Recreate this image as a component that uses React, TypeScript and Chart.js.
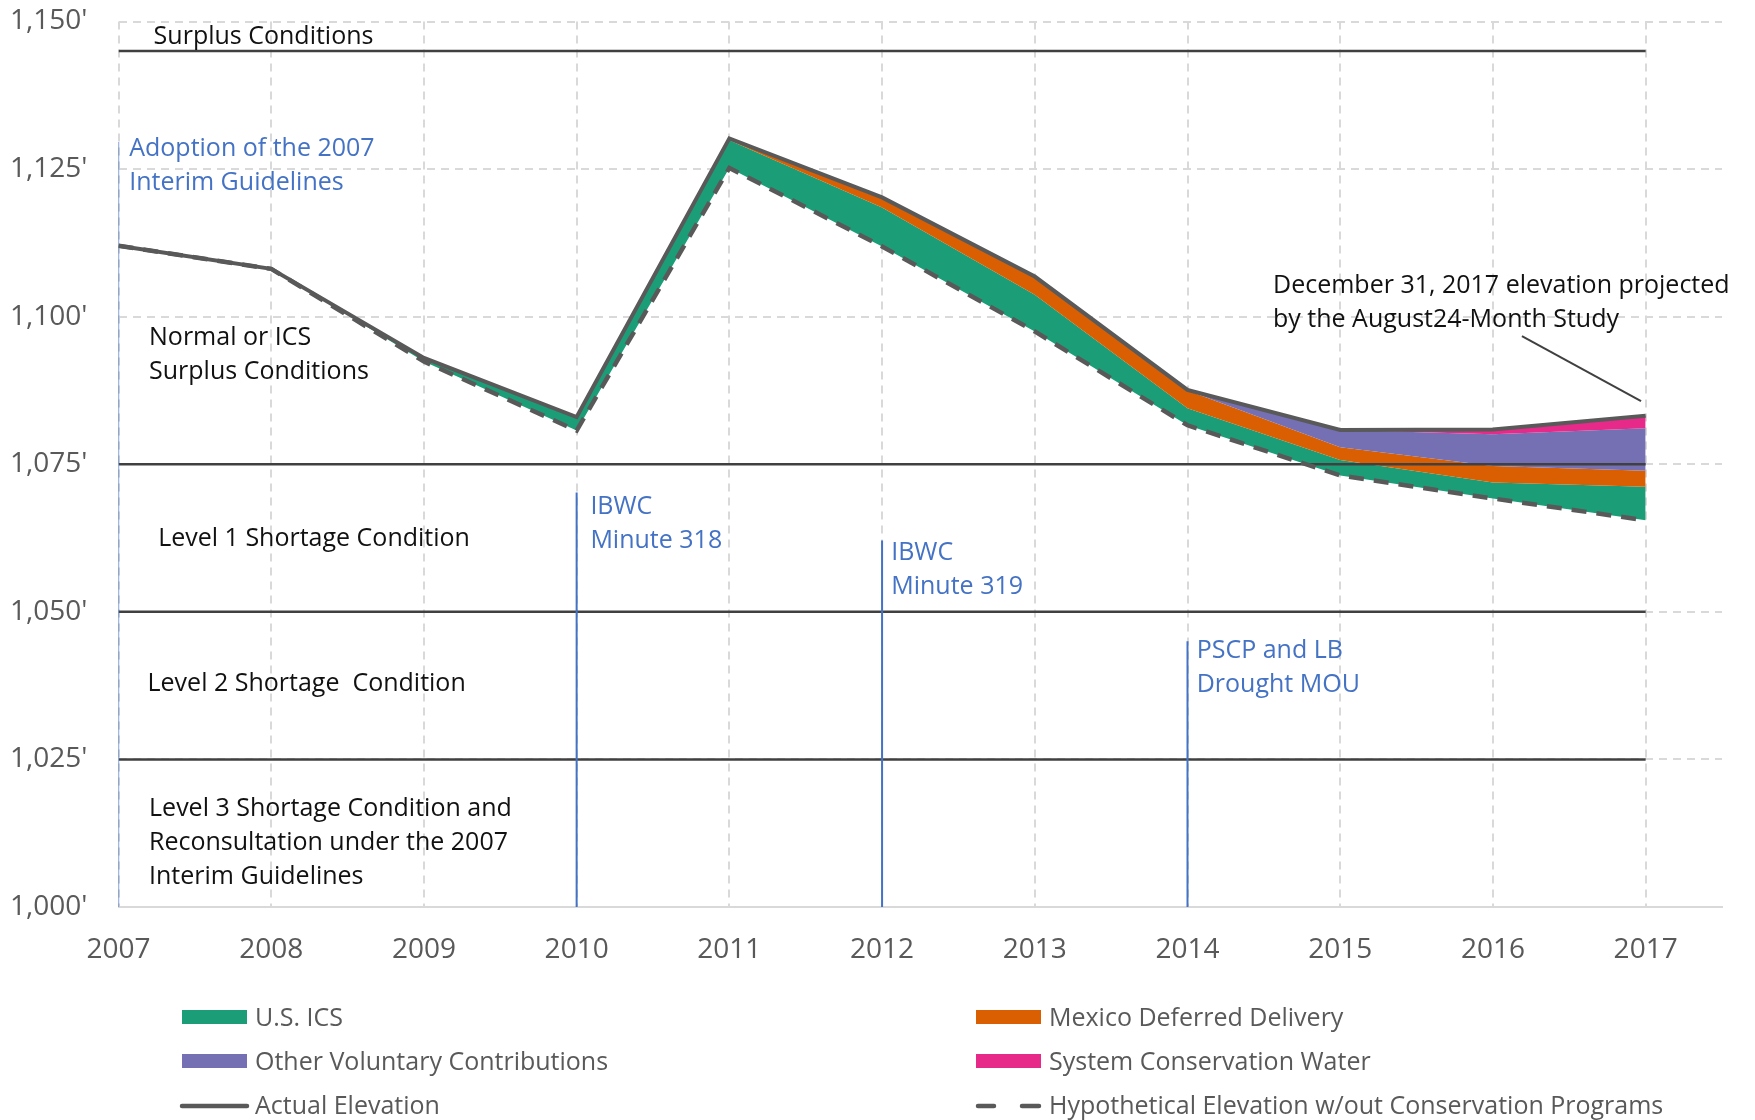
import React, { useEffect, useRef } from "react";
import { Chart, registerables } from "chart.js";

Chart.register(...registerables);

// ---------- data ----------
const years = [2007, 2008, 2009, 2010, 2011, 2012, 2013, 2014, 2015, 2016, 2017];
const hypotheticalElevation = [1112.0, 1108.1, 1092.4, 1080.7, 1125.2, 1111.9, 1097.5, 1081.6, 1073.1, 1069.2, 1065.5];
const usIcs = [0, 0, 0.6, 2.3, 4.7, 6.6, 6.2, 2.9, 2.6, 2.7, 5.7];
const mexicoDeferredDelivery = [0, 0, 0, 0, 0.3, 1.7, 3.1, 3.0, 2.2, 2.8, 2.7];
const otherVoluntaryContributions = [0, 0, 0, 0, 0, 0, 0, 0.1, 2.9, 5.4, 7.2];
const systemConservationWater = [0, 0, 0, 0, 0, 0, 0, 0, 0, 0.8, 2.1];
const actualElevation = [1112.0, 1108.1, 1093.0, 1083.0, 1130.2, 1120.2, 1106.8, 1087.6, 1080.8, 1080.9, 1083.2];

const conditionLevels = [1145, 1075, 1050, 1025];
const milestoneYears = [2007, 2010, 2012, 2014];
const milestoneTops = [1129.6, 1070.2, 1062.1, 1045.0];
const yTickValues = [1000, 1025, 1050, 1075, 1100, 1125, 1150];

const pointerYears = [2016.19, 2016.97];
const pointerElevations = [1096.7, 1085.7];

const seriesLabels = [
  "U.S. ICS",
  "Mexico Deferred Delivery",
  "Other Voluntary Contributions",
  "System Conservation Water",
];
const lineLabels = ["Actual Elevation", "Hypothetical Elevation w/out Conservation Programs"];

const blackText = [
  { lines: ["Surplus Conditions"], year: 2007.23, elev: 1147.7 },
  { lines: ["Normal or ICS", "Surplus Conditions"], year: 2007.2, elev: 1096.7 },
  { lines: ["Level 1 Shortage Condition"], year: 2007.26, elev: 1062.7 },
  { lines: ["Level 2 Shortage  Condition"], year: 2007.19, elev: 1038.1 },
  { lines: ["Level 3 Shortage Condition and", "Reconsultation under the 2007", "Interim Guidelines"], year: 2007.2, elev: 1016.9 },
  { lines: ["December 31, 2017 elevation projected", "by the August24-Month Study"], year: 2014.56, elev: 1105.5 },
];
const blueText = [
  { lines: ["Adoption of the 2007", "Interim Guidelines"], year: 2007.07, elev: 1128.7 },
  { lines: ["IBWC", "Minute 318"], year: 2010.09, elev: 1068.1 },
  { lines: ["IBWC", "Minute 319"], year: 2012.06, elev: 1060.3 },
  { lines: ["PSCP and LB", "Drought MOU"], year: 2014.06, elev: 1043.7 },
];

// ---------- styles ----------
const FONT = "'Open Sans', 'Noto Sans', sans-serif";
const COLORS = {
  green: "#1b9e77",
  orange: "#d95f02",
  purple: "#7570b3",
  pink: "#e7298a",
  line: "#595959",
  level: "#404040",
  blue: "#4472c4",
  grid: "#d9d9d9",
  tick: "#595959",
  text: "#111111",
};
const layerColors = [COLORS.green, COLORS.orange, COLORS.purple, COLORS.pink];

const toPoints = (xs: number[], ys: number[]) => xs.map((x, i) => ({ x, y: ys[i] }));

function buildDatasets() {
  const layers = [usIcs, mexicoDeferredDelivery, otherVoluntaryContributions, systemConservationWater];
  const datasets: any[] = [];
  datasets.push({
    label: "base",
    data: toPoints(years, hypotheticalElevation),
    borderColor: "rgba(0,0,0,0)",
    borderWidth: 0,
    pointRadius: 0,
    fill: false,
    order: 20,
  });
  let running = hypotheticalElevation.slice();
  layers.forEach((layer, li) => {
    running = running.map((v, i) => v + layer[i]);
    datasets.push({
      label: seriesLabels[li],
      data: toPoints(years, running),
      borderColor: "rgba(0,0,0,0)",
      borderWidth: 0,
      backgroundColor: layerColors[li],
      pointRadius: 0,
      fill: "-1",
      order: 19 - li,
    });
  });
  conditionLevels.forEach((lvl) => {
    datasets.push({
      label: "level",
      data: toPoints([years[0], years[years.length - 1]], [lvl, lvl]),
      borderColor: COLORS.level,
      borderWidth: 2.5,
      pointRadius: 0,
      fill: false,
      order: 8,
    });
  });
  milestoneYears.forEach((yr, i) => {
    datasets.push({
      label: "milestone",
      data: toPoints([yr, yr], [yTickValues[0], milestoneTops[i]]),
      borderColor: COLORS.blue,
      borderWidth: i === 0 ? 1.3 : 2,
      pointRadius: 0,
      fill: false,
      order: 7,
    });
  });
  datasets.push({
    label: "pointer",
    data: toPoints(pointerYears, pointerElevations),
    borderColor: COLORS.level,
    borderWidth: 2,
    pointRadius: 0,
    fill: false,
    order: 6,
  });
  datasets.push({
    label: lineLabels[1],
    data: toPoints(years, hypotheticalElevation),
    borderColor: COLORS.line,
    borderWidth: 4.5,
    borderDash: [15, 10],
    pointRadius: 0,
    fill: false,
    order: 2,
  });
  datasets.push({
    label: lineLabels[0],
    data: toPoints(years, actualElevation),
    borderColor: COLORS.line,
    borderWidth: 4,
    pointRadius: 0,
    fill: false,
    order: 1,
  });
  return datasets;
}

const textPlugin = {
  id: "textAnnotations",
  afterDatasetsDraw(chart: any) {
    const { ctx, scales } = chart;
    const xs = scales.x;
    const ys = scales.y;
    ctx.save();
    ctx.font = `25px ${FONT}`;
    ctx.textBaseline = "middle";
    ctx.textAlign = "left";
    const draw = (items: any[], color: string) => {
      ctx.fillStyle = color;
      items.forEach((it) => {
        const px = xs.getPixelForValue(it.year);
        const py = ys.getPixelForValue(it.elev) + 2;
        it.lines.forEach((ln: string, k: number) => ctx.fillText(ln, px, py + k * 34));
      });
    };
    draw(blackText, COLORS.text);
    draw(blueText, COLORS.blue);
    ctx.restore();
  },
};

const legendItems = [
  { label: seriesLabels[0], color: COLORS.green, kind: "box", col: 0, row: 0 },
  { label: seriesLabels[2], color: COLORS.purple, kind: "box", col: 0, row: 1 },
  { label: lineLabels[0], color: COLORS.line, kind: "line", col: 0, row: 2 },
  { label: seriesLabels[1], color: COLORS.orange, kind: "box", col: 1, row: 0 },
  { label: seriesLabels[3], color: COLORS.pink, kind: "box", col: 1, row: 1 },
  { label: lineLabels[1], color: COLORS.line, kind: "dash", col: 1, row: 2 },
];

const legendPlugin = {
  id: "customLegend",
  afterDraw(chart: any) {
    const ctx = chart.ctx;
    const colX = [182, 976];
    const rowY = [1018, 1062, 1106];
    ctx.save();
    ctx.font = `25px ${FONT}`;
    ctx.textBaseline = "middle";
    ctx.textAlign = "left";
    legendItems.forEach((it) => {
      const x = colX[it.col];
      const y = rowY[it.row];
      if (it.kind === "box") {
        ctx.fillStyle = it.color;
        ctx.fillRect(x, y - 8, 65, 14);
      } else {
        ctx.strokeStyle = it.color;
        ctx.lineWidth = 4.5;
        ctx.lineCap = "round";
        ctx.beginPath();
        if (it.kind === "dash") {
          ctx.moveTo(x + 2, y);
          ctx.lineTo(x + 18, y);
          ctx.moveTo(x + 46, y);
          ctx.lineTo(x + 63, y);
        } else {
          ctx.moveTo(x, y);
          ctx.lineTo(x + 65, y);
        }
        ctx.stroke();
      }
      ctx.fillStyle = COLORS.tick;
      ctx.fillText(it.label, x + 73, y + 1);
    });
    ctx.restore();
  },
};

export default function App() {
  const canvasRef = useRef<HTMLCanvasElement | null>(null);

  useEffect(() => {
    if (!canvasRef.current) return;
    Chart.defaults.font.family = FONT;
    const chart = new Chart(canvasRef.current, {
      type: "line",
      data: { datasets: buildDatasets() },
      options: {
        animation: false,
        responsive: false,
        maintainAspectRatio: false,
        devicePixelRatio: 1,
        layout: { autoPadding: false, padding: { left: 0, right: 33, top: 21.5, bottom: 0 } },
        plugins: {
          legend: { display: false },
          tooltip: { enabled: false },
          filler: { propagate: false },
        },
        elements: { line: { tension: 0 } },
        scales: {
          x: {
            type: "linear",
            min: years[0],
            max: years[years.length - 1] + 0.5,
            afterBuildTicks: (scale: any) => {
              scale.ticks = years.map((v) => ({ value: v }));
            },
            afterFit: (scale: any) => {
              scale.height = 213;
              scale.paddingLeft = 0;
              scale.paddingRight = 0;
            },
            grid: { color: COLORS.grid, lineWidth: 2, drawTicks: false },
            border: { display: true, color: COLORS.grid, width: 2, dash: [8, 6] },
            ticks: {
              color: COLORS.tick,
              font: { size: 28, family: FONT },
              padding: 26,
              maxRotation: 0,
              autoSkip: false,
              callback: (v: any) => String(v),
            },
          },
          y: {
            type: "linear",
            min: yTickValues[0],
            max: yTickValues[yTickValues.length - 1],
            afterBuildTicks: (scale: any) => {
              scale.ticks = yTickValues.map((v) => ({ value: v }));
            },
            afterFit: (scale: any) => {
              scale.width = 118.5;
              scale.paddingTop = 0;
              scale.paddingBottom = 0;
            },
            grid: { color: COLORS.grid, lineWidth: 2, drawTicks: false },
            border: { display: false, dash: [8, 6] },
            ticks: {
              color: COLORS.tick,
              font: { size: 28, family: FONT },
              padding: 31,
              callback: (v: any) => Number(v).toLocaleString("en-US") + "'",
            },
          },
        },
      },
      plugins: [textPlugin, legendPlugin],
    });
    return () => chart.destroy();
  }, []);

  return (
    <div style={{ position: "fixed", left: 0, top: 0, width: 1755, height: 1120, background: "#ffffff" }}>
      <canvas ref={canvasRef} width={1755} height={1120} style={{ width: 1755, height: 1120, display: "block" }} />
    </div>
  );
}
